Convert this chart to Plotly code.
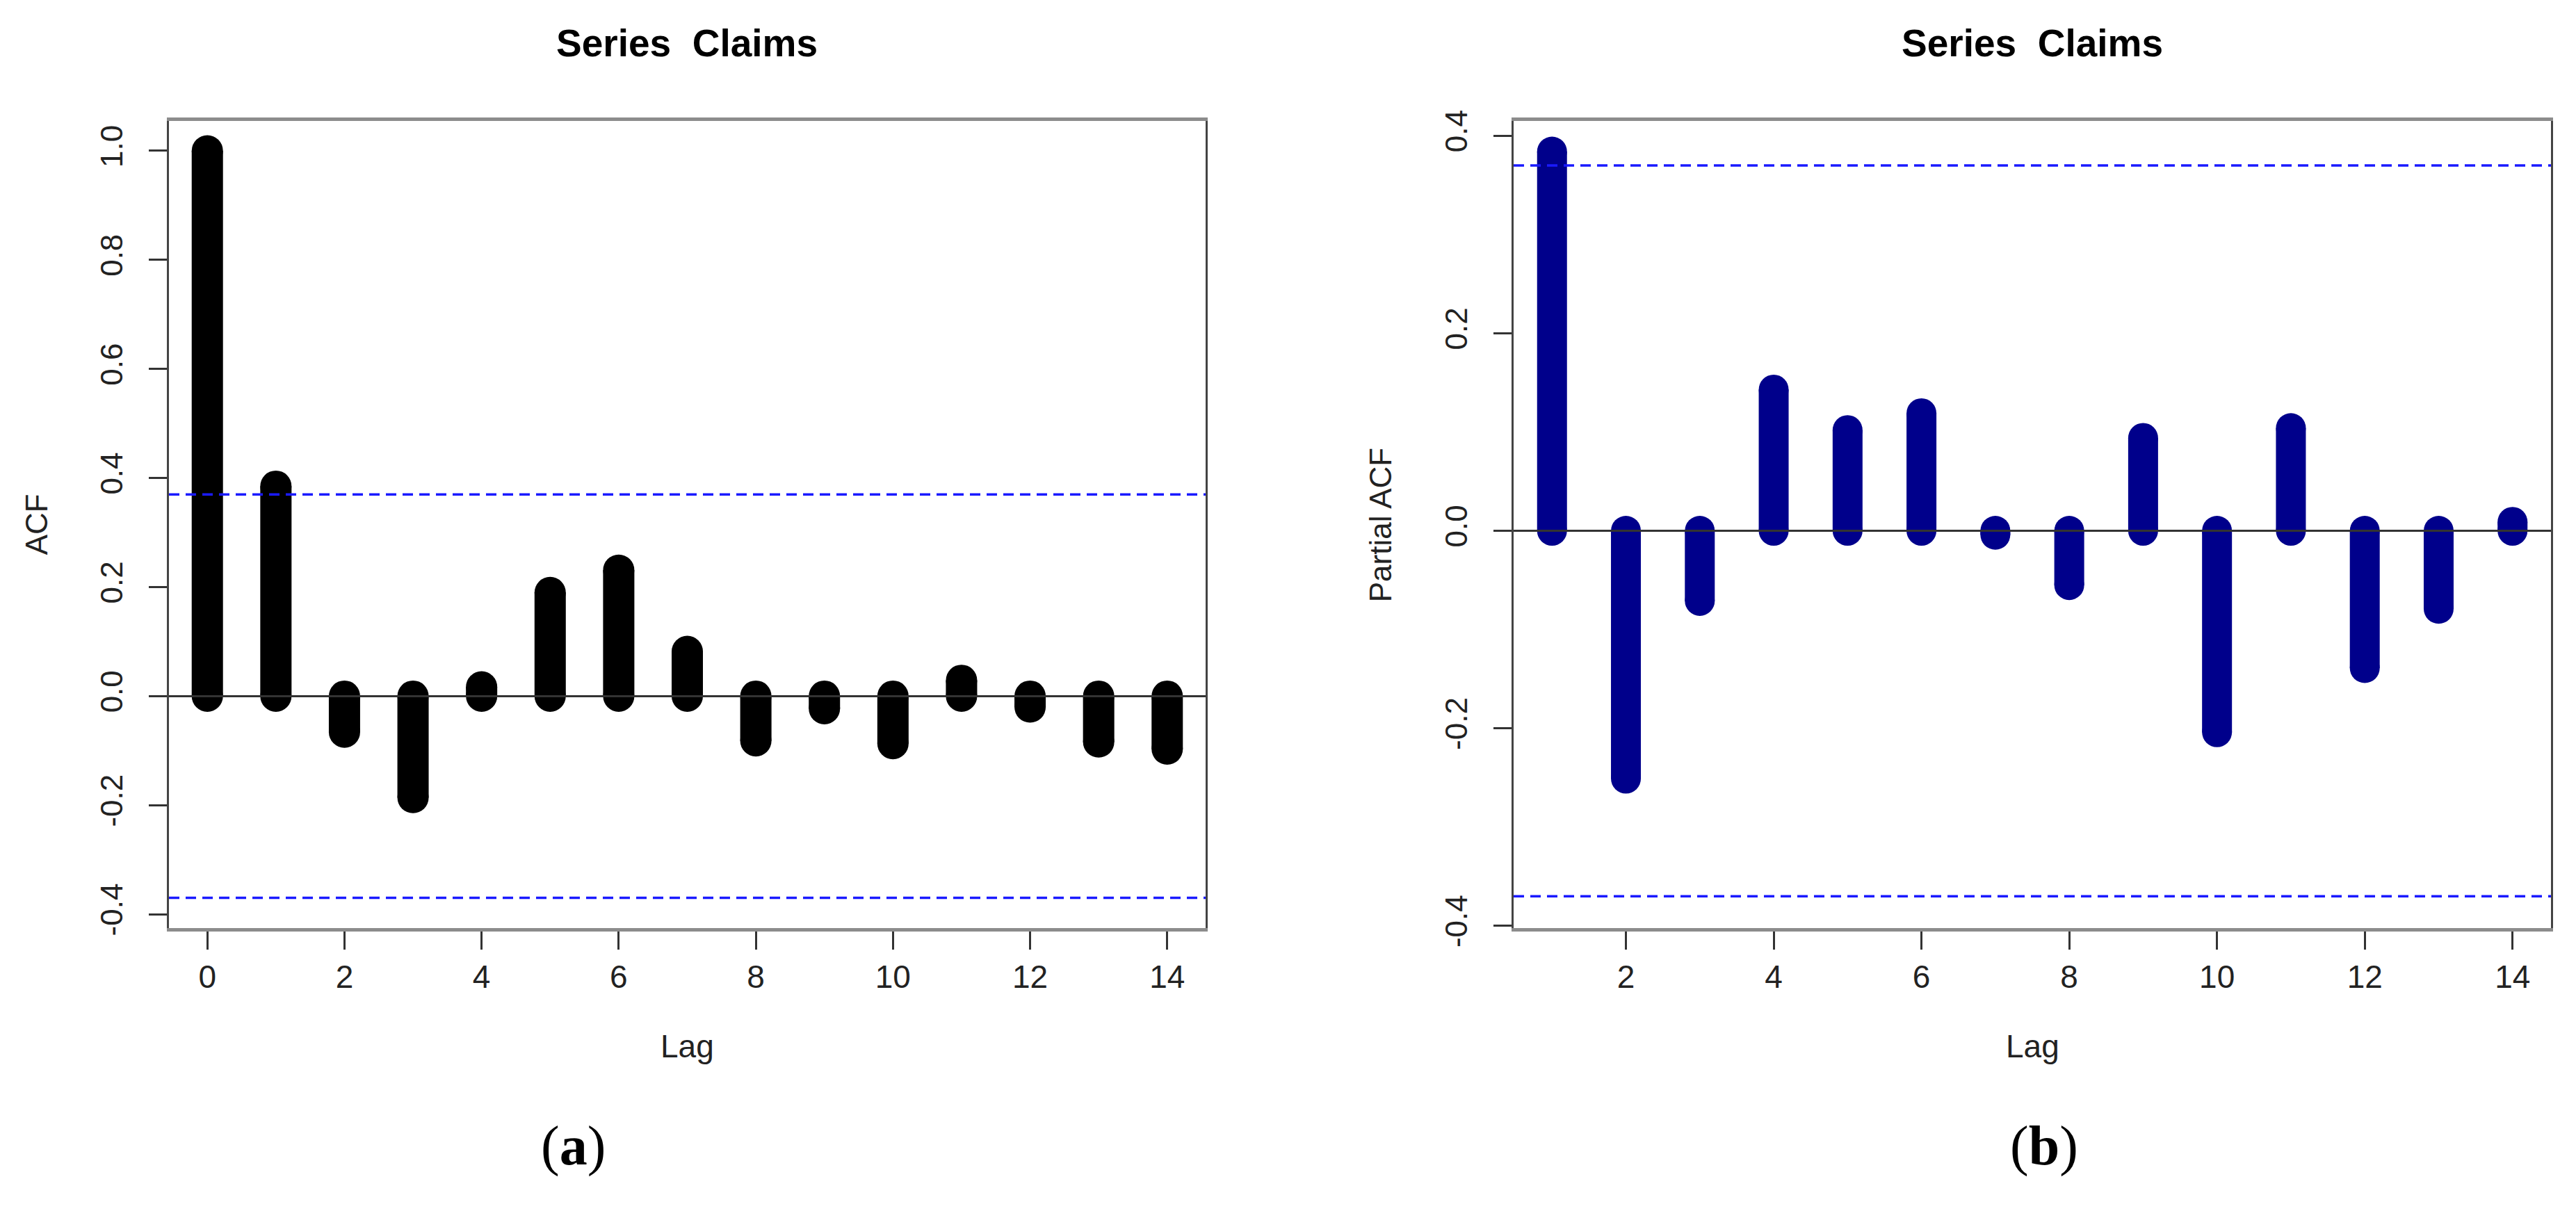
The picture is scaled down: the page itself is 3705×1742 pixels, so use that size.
import plotly.graph_objects as go

# ---------------- data ----------------
acf_lags = [0, 1, 2, 3, 4, 5, 6, 7, 8, 9, 10, 11, 12, 13, 14]
acf_vals = [1.0, 0.385, -0.066, -0.186, 0.017, 0.190, 0.231, 0.082,
            -0.082, -0.023, -0.087, 0.029, -0.020, -0.084, -0.097]
pacf_lags = [1, 2, 3, 4, 5, 6, 7, 8, 9, 10, 11, 12, 13, 14]
pacf_vals = [0.384, -0.251, -0.071, 0.143, 0.102, 0.119, -0.004,
             -0.055, 0.094, -0.204, 0.104, -0.139, -0.079, 0.009]
ci_limit = 0.37

acf_xticks = [0, 2, 4, 6, 8, 10, 12, 14]
pacf_xticks = [2, 4, 6, 8, 10, 12, 14]
acf_yticks = [-0.4, -0.2, 0.0, 0.2, 0.4, 0.6, 0.8, 1.0]
acf_yticktext = ["-0.4", "-0.2", "0.0", "0.2", "0.4", "0.6", "0.8", "1.0"]
pacf_yticks = [-0.4, -0.2, 0.0, 0.2, 0.4]
pacf_yticktext = ["-0.4", "-0.2", "0.0", "0.2", "0.4"]

title_text = "Series\u00a0 Claims"
xlab = "Lag"
acf_ylab = "ACF"
pacf_ylab = "Partial ACF"
panel_labels = ["(<b>a</b>)", "(<b>b</b>)"]

# ---------------- layout helpers ----------------
W, H = 3705, 1742


def X(px):
    return px / W


def Y(py):
    return 1 - py / H


SANS = "Liberation Sans, Arial, sans-serif"
SERIF = "Liberation Serif, Times New Roman, serif"

fig = go.Figure()


def add_stems(lags, vals, color, width, xa, ya):
    xs, ys = [], []
    for l, v in zip(lags, vals):
        xs += [l, l, None]
        ys += [0, v, None]
    fig.add_trace(go.Scatter(x=xs, y=ys, mode="lines", xaxis=xa, yaxis=ya,
                             line=dict(color=color, width=width),
                             hoverinfo="skip", showlegend=False))
    # round caps at both ends
    fig.add_trace(go.Scatter(x=lags + lags, y=[0] * len(lags) + vals,
                             mode="markers", xaxis=xa, yaxis=ya,
                             marker=dict(color=color, size=width, symbol="circle",
                                         line=dict(width=0)),
                             hoverinfo="skip", showlegend=False))


add_stems(acf_lags, acf_vals, "#000000", 45, "x", "y")
add_stems(pacf_lags, pacf_vals, "#00008B", 43, "x2", "y2")

axis_common = dict(
    showgrid=False, zeroline=False, showline=True, mirror=True,
    ticks="outside", ticklen=26, tickwidth=3, tickcolor="#333333",
)

fig.update_layout(
    width=W, height=H,
    margin=dict(l=0, r=0, t=0, b=0),
    paper_bgcolor="white", plot_bgcolor="white",
    showlegend=False,
    xaxis=dict(domain=[X(243), X(1734)], range=[-0.56, 14.56],
               tickvals=acf_xticks, ticklabelstandoff=0,
               linecolor="#8c8c8c", linewidth=5,
               tickfont=dict(family=SANS, size=46, color="#222222"),
               anchor="y", **axis_common),
    yaxis=dict(domain=[Y(1353), Y(163)], range=[-0.4248, 1.0548],
               tickvals=acf_yticks, ticktext=acf_yticktext, tickangle=-90,
               ticklabelstandoff=20, linecolor="#444444", linewidth=3,
               tickfont=dict(family=SANS, size=44, color="#222222"),
               anchor="x", **axis_common),
    xaxis2=dict(domain=[X(2177), X(3669)], range=[0.48, 14.52],
                tickvals=pacf_xticks, ticklabelstandoff=0,
                linecolor="#8c8c8c", linewidth=5,
                tickfont=dict(family=SANS, size=46, color="#222222"),
                anchor="y2", **axis_common),
    yaxis2=dict(domain=[Y(1353), Y(163)], range=[-0.402, 0.415],
                tickvals=pacf_yticks, ticktext=pacf_yticktext, tickangle=-90,
                ticklabelstandoff=20, linecolor="#444444", linewidth=3,
                tickfont=dict(family=SANS, size=44, color="#222222"),
                anchor="x2", **axis_common),
)

# zero lines and confidence limits
for xr, yr in [("x", "y"), ("x2", "y2")]:
    fig.add_shape(type="line", xref=f"{xr} domain", yref=yr, x0=0, x1=1, y0=0, y1=0,
                  line=dict(color="#333333", width=3), layer="above")
    for c in (ci_limit, -ci_limit):
        fig.add_shape(type="line", xref=f"{xr} domain", yref=yr, x0=0, x1=1, y0=c, y1=c,
                      line=dict(color="#1a1aff", width=3.5, dash="15px,9px"), layer="above")

# titles / labels
ann = []
for cx, ylab, ylx, plab, plx in [(988, acf_ylab, 52, panel_labels[0], 824),
                                 (2923, pacf_ylab, 1985, panel_labels[1], 2940)]:
    ann.append(dict(text=f"<b>{title_text}</b>", x=X(cx), y=Y(48),
                    font=dict(family=SANS, size=55, color="#000000")))
    ann.append(dict(text=xlab, x=X(cx), y=Y(1528),
                    font=dict(family=SANS, size=46, color="#222222")))
    ann.append(dict(text=ylab, x=X(ylx), y=Y(758), textangle=-90,
                    font=dict(family=SANS, size=44, color="#222222")))
    ann.append(dict(text=plab, x=X(plx), y=Y(1675),
                    font=dict(family=SERIF, size=80, color="#000000")))
for a in ann:
    a.update(xref="paper", yref="paper", xanchor="center", yanchor="middle",
             showarrow=False)
fig.update_layout(annotations=ann)

fig.write_html(
    "out.html",
    config={"displayModeBar": False},
    post_script=("document.documentElement.style.margin='0';"
                 "document.body.style.margin='0';"
                 "document.documentElement.style.overflow='hidden';"
                 "document.body.style.overflow='hidden';"),
)
